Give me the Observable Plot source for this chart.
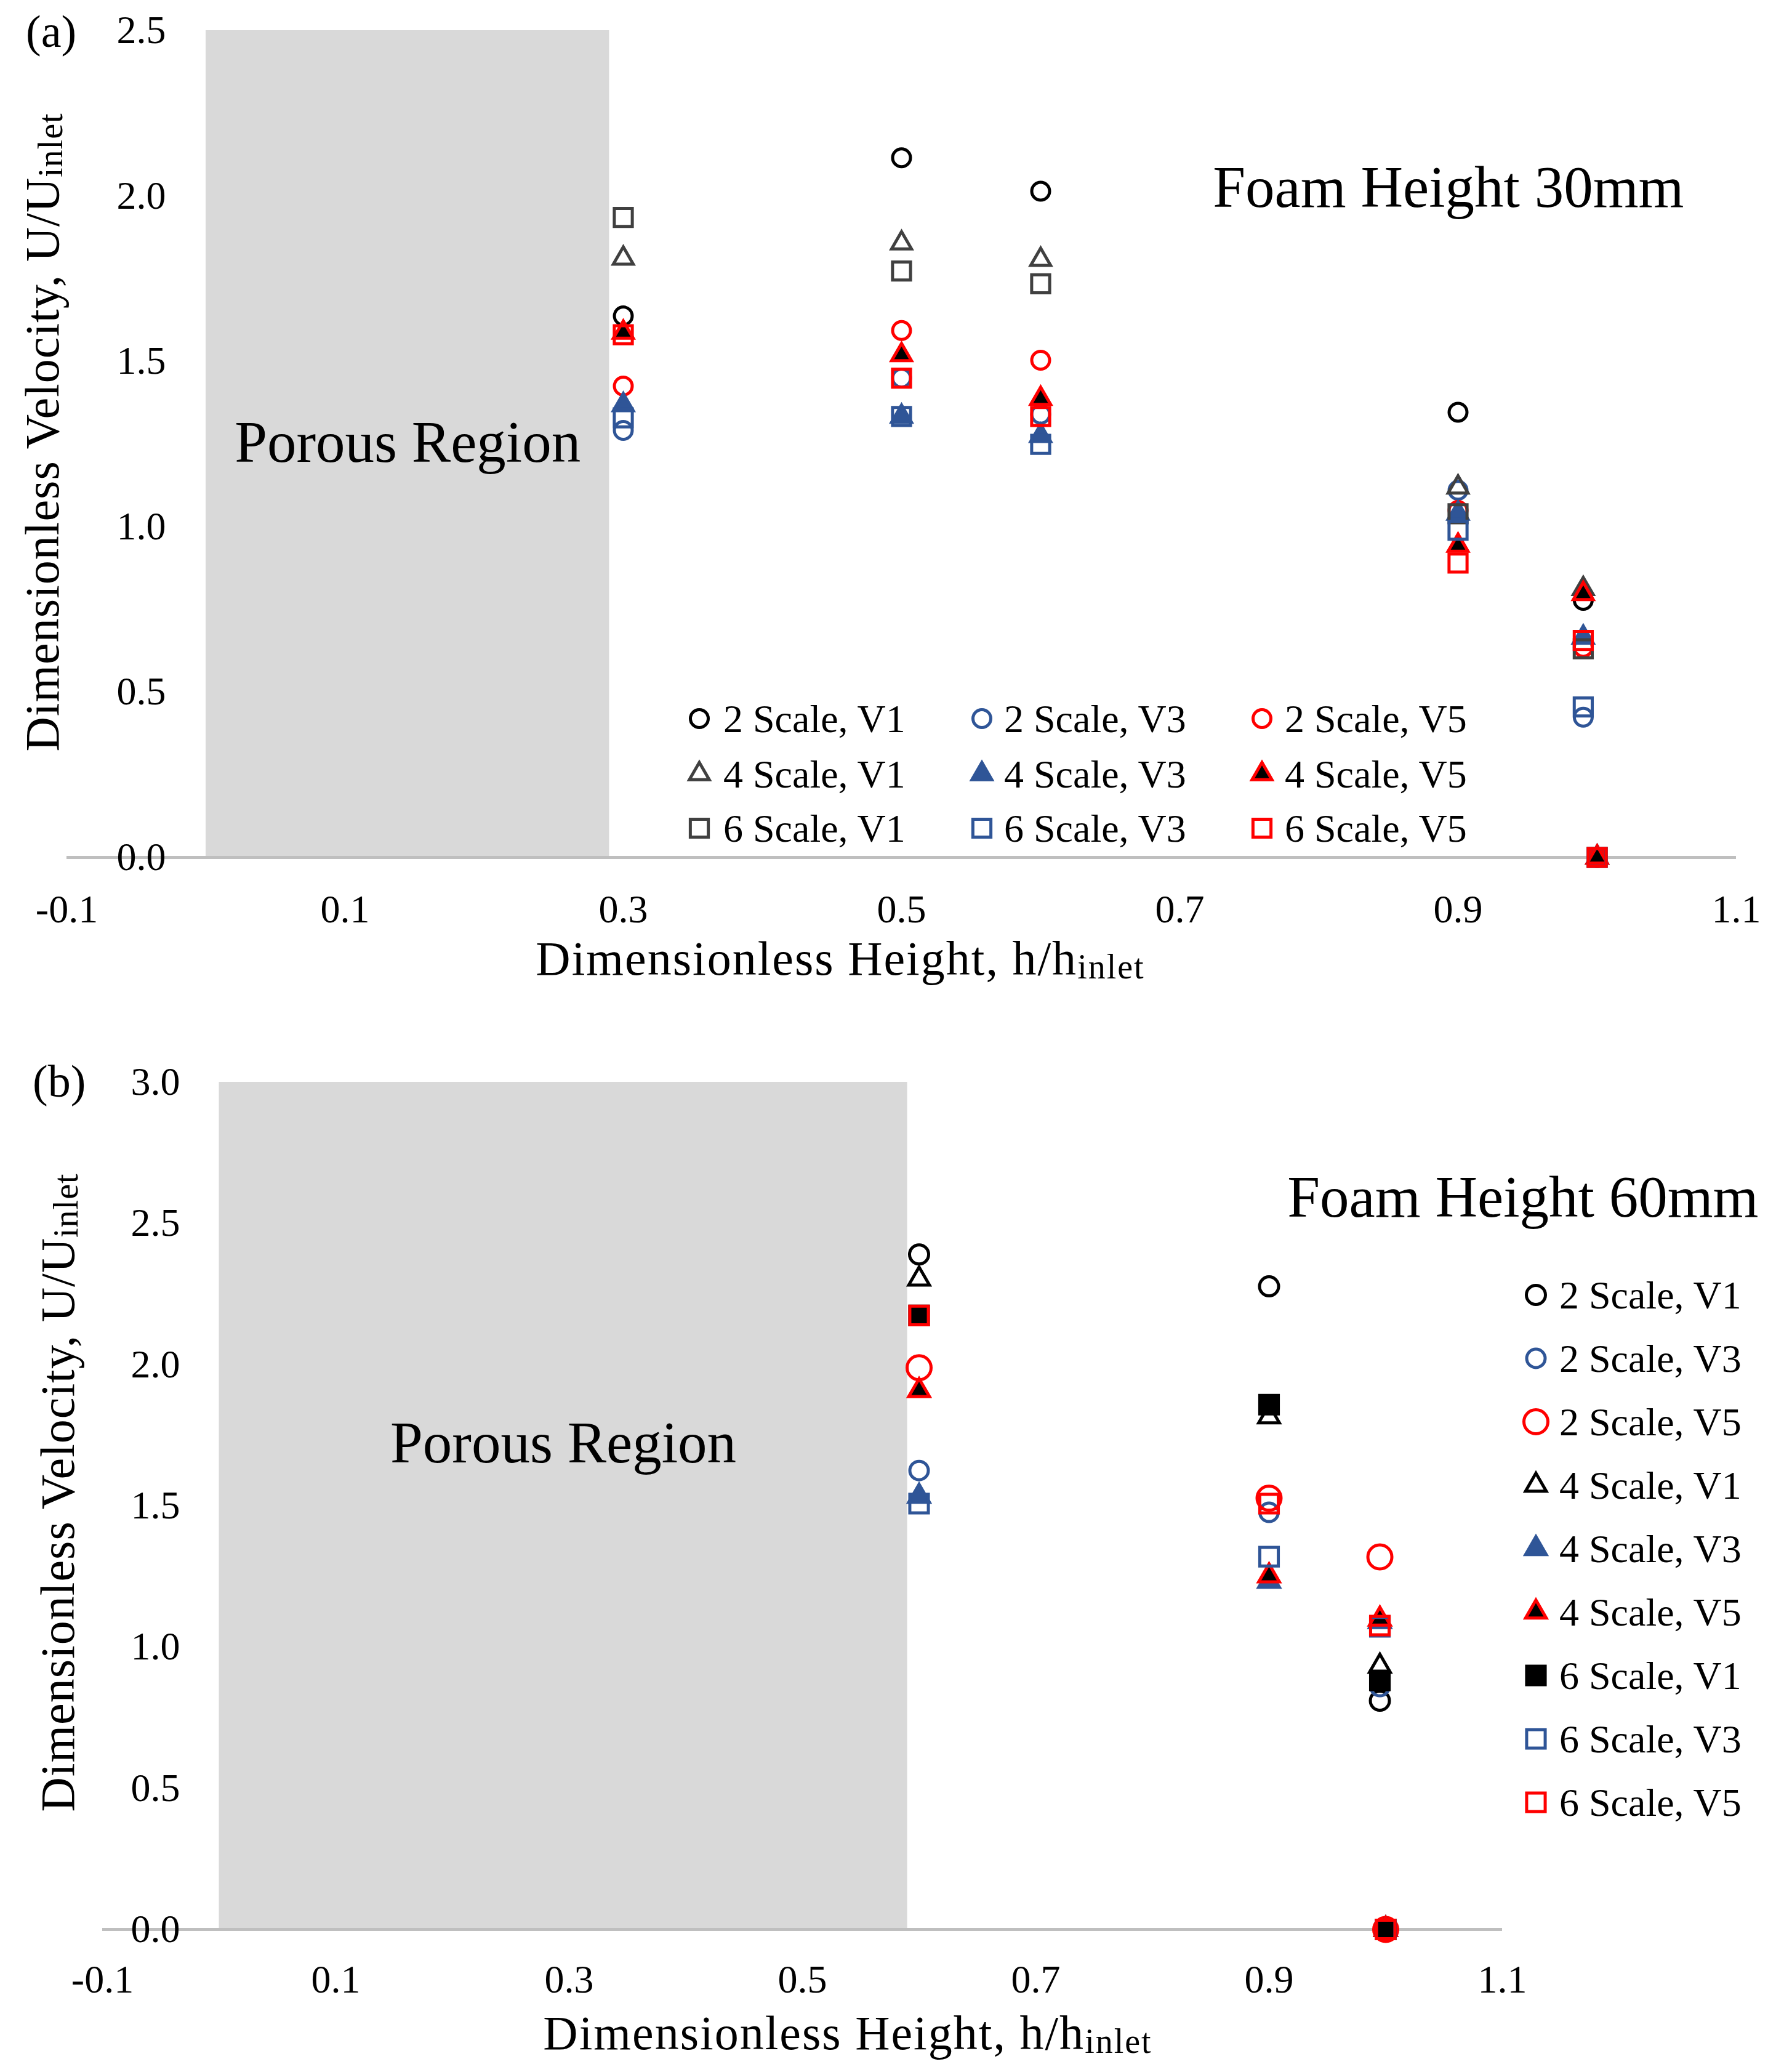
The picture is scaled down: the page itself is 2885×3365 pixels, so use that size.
<!DOCTYPE html>
<html>
<head>
<meta charset="utf-8">
<script src="https://cdn.jsdelivr.net/npm/d3@7"></script>
<script src="https://cdn.jsdelivr.net/npm/@observablehq/plot@0.6"></script>
<style>
  body { margin: 0; background: #fff; }
  #page { position: relative; width: 2885px; height: 3365px; background: #fff; }
  #chart-a { position: absolute; left: 0; top: 0; }
  #chart-b { position: absolute; left: 0; top: 1700px; }
</style>
</head>
<body>
<div id="page">
  <div id="chart-a"></div>
  <div id="chart-b"></div>
</div>
<script>
// series names, same order in both panels (also the legend order)
const seriesNames = [
  "2 Scale, V1", "2 Scale, V3", "2 Scale, V5",
  "4 Scale, V1", "4 Scale, V3", "4 Scale, V5",
  "6 Scale, V1", "6 Scale, V3", "6 Scale, V5"
];

// panel (a) - foam height 30mm
const heightsA = [0.3, 0.5, 0.6, 0.9, 0.99, 1.0];
const a2V1 = [1.637, 2.115, 2.014, 1.346, 0.777, 0];
const a2V3 = [1.291, 1.449, 1.340, 1.110, 0.424, 0];
const a2V5 = [1.425, 1.593, 1.503, 1.049, 0.635, 0];
const a4V1 = [1.811, 1.857, 1.807, 1.119, 0.812, 0];
const a4V3 = [1.368, 1.333, 1.275, 1.040, 0.665, 0];
const a4V5 = [1.587, 1.519, 1.387, 0.943, 0.797, 0];
const a6V1 = [1.935, 1.773, 1.734, 1.039, 0.631, 0];
const a6V3 = [1.329, 1.333, 1.249, 0.989, 0.455, 0];
const a6V5 = [1.580, 1.449, 1.333, 0.890, 0.656, 0];
const porousA = [0, 0.29];
const yTicksA = [0, 0.5, 1.0, 1.5, 2.0, 2.5];

// panel (b) - foam height 60mm
const heightsB = [0.6, 0.9, 0.995, 1.0];
const b2V1 = [2.390, 2.277, 0.810, 0];
const b2V3 = [1.625, 1.477, 0.860, 0];
const b2V5 = [1.989, 1.527, 1.319, 0];
const b4V1 = [2.303, 1.815, 0.932, 0];
const b4V3 = [1.534, 1.233, 1.090, 0];
const b4V5 = [1.908, 1.252, 1.099, 0];
const b6V1 = [2.174, 1.858, 0.882, 0];
const b6V3 = [1.508, 1.320, 1.072, 0];
const b6V5 = [2.174, 1.508, 1.076, 0];
const porousB = [0, 0.59];
const yTicksB = [0, 0.5, 1.0, 1.5, 2.0, 2.5, 3.0];

const xTicks = [-0.1, 0.1, 0.3, 0.5, 0.7, 0.9, 1.1];

const blue = "#2f5597";
const red = "#ff0000";

// marker looks per series
const markersA = [
  {symbol: "circle", stroke: "#000", fill: "none", r: 14.5},
  {symbol: "circle", stroke: blue, fill: "none", r: 14.5},
  {symbol: "circle", stroke: red, fill: "none", r: 14.5},
  {symbol: "triangle", stroke: "#404040", fill: "none", r: 12},
  {symbol: "triangle", stroke: blue, fill: blue, r: 12},
  {symbol: "triangle", stroke: red, fill: "#000", r: 12},
  {symbol: "square", stroke: "#404040", fill: "none", r: 16.5},
  {symbol: "square", stroke: blue, fill: "none", r: 16.5},
  {symbol: "square", stroke: red, fill: "none", r: 16.5}
];
const markersB = [
  {symbol: "circle", stroke: "#000", fill: "none", r: 15.5},
  {symbol: "circle", stroke: blue, fill: "none", r: 15},
  {symbol: "circle", stroke: red, fill: "none", r: 19.5},
  {symbol: "triangle", stroke: "#000", fill: "none", r: 12.5},
  {symbol: "triangle", stroke: blue, fill: blue, r: 12.5},
  {symbol: "triangle", stroke: red, fill: "#000", r: 12.5},
  {symbol: "square", stroke: "#000", fill: "#000", r: 17},
  {symbol: "square", stroke: blue, fill: "none", r: 17},
  {symbol: "square", stroke: red, fill: "none", r: 17}
];

function toRows(heights, valueLists) {
  const rows = [];
  valueLists.forEach((vals, i) => {
    vals.forEach((v, j) => rows.push({series: seriesNames[i], h: heights[j], u: v}));
  });
  return rows;
}

const rowsA = toRows(heightsA, [a2V1, a2V3, a2V5, a4V1, a4V3, a4V5, a6V1, a6V3, a6V5]);
const rowsB = toRows(heightsB, [b2V1, b2V3, b2V5, b4V1, b4V3, b4V5, b6V1, b6V3, b6V5]);

function dotMarks(rows, markers) {
  return seriesNames.map((name, i) => {
    const m = markers[i];
    return Plot.dot(rows.filter(d => d.series === name), {
      x: "h", y: "u",
      symbol: m.symbol, r: m.r,
      stroke: m.stroke, fill: m.fill, strokeWidth: 5
    });
  });
}

const d3Symbols = {circle: d3.symbolCircle, triangle: d3.symbolTriangle, square: d3.symbolSquare};

function drawLegend(svg, markers, spots) {
  const g = svg.append("g").attr("text-anchor", "start");
  spots.forEach((s, i) => {
    const m = markers[i];
    g.append("path")
      .attr("transform", `translate(${s.mx},${s.y})`)
      .attr("d", d3.symbol(d3Symbols[m.symbol], Math.PI * m.r * m.r)())
      .attr("fill", m.fill).attr("stroke", m.stroke).attr("stroke-width", 5);
    g.append("text")
      .attr("x", s.tx).attr("y", s.y + 22)
      .attr("text-anchor", "start")
      .attr("font-size", 64).attr("fill", "#000")
      .text(seriesNames[i]);
  });
}

function axisTitles(svg, o) {
  const xt = svg.append("text")
    .attr("x", o.xCenter).attr("y", o.xBase)
    .attr("text-anchor", "middle").attr("font-size", 78)
    .attr("letter-spacing", 2).attr("fill", "#000");
  xt.append("tspan").text("Dimensionless Height, h/h");
  xt.append("tspan").attr("font-size", 56).attr("dy", 6).text("inlet");

  const yt = svg.append("text")
    .attr("transform", `translate(${o.yBase},${o.yCenter}) rotate(-90)`)
    .attr("text-anchor", "middle").attr("font-size", 78)
    .attr("letter-spacing", 1).attr("fill", "#000");
  yt.append("tspan").text("Dimensionless Velocity, U/U");
  yt.append("tspan").attr("font-size", 56).attr("dy", 6).text("inlet");

  svg.append("text")
    .attr("x", o.tagX).attr("y", o.tagY)
    .attr("text-anchor", "start")
    .attr("font-size", 74).attr("fill", "#000")
    .text(o.tag);
}

const baseStyle = {fontFamily: "'Liberation Serif', serif", fontSize: "64px", color: "#000", background: "#fff"};

// ---- panel (a)
const plotA = Plot.plot({
  width: 2885, height: 1640,
  marginLeft: 108, marginRight: 65, marginTop: 49, marginBottom: 248,
  x: {domain: [-0.1, 1.1]},
  y: {domain: [0, 2.5]},
  style: baseStyle,
  marks: [
    Plot.rect([porousA], {x1: d => d[0], x2: d => d[1], y1: 0, y2: d3.max(yTicksA), fill: "#d9d9d9"}),
    Plot.ruleY([0], {stroke: "#bfbfbf", strokeWidth: 5}),
    Plot.axisY(yTicksA, {tickSize: 0, tickPadding: 0, dx: 161, tickFormat: d => d.toFixed(1), label: null, fontSize: 64}),
    Plot.axisX(xTicks, {tickSize: 0, tickPadding: 60, tickFormat: d => d.toFixed(1), label: null, fontSize: 64}),
    Plot.text(["Porous Region"], {x: () => (porousA[0] + porousA[1]) / 2, frameAnchor: "top", lineAnchor: "bottom", dy: 700, fontSize: 95, fill: "#000"}),
    Plot.text(["Foam Height 30mm"], {frameAnchor: "top-right", textAnchor: "end", lineAnchor: "bottom", dx: -85, dy: 286, fontSize: 95, fill: "#000"}),
    ...dotMarks(rowsA, markersA)
  ]
});
document.getElementById("chart-a").appendChild(plotA);
const svgA = d3.select(plotA);
axisTitles(svgA, {xCenter: 1365, xBase: 1583, yCenter: 702, yBase: 95, tag: "(a)", tagX: 42, tagY: 76});
const legendRowsA = [1167, 1257, 1345];
const legendColsA = [{mx: 1136, tx: 1175}, {mx: 1595, tx: 1631}, {mx: 2050, tx: 2087}];
drawLegend(svgA, markersA, seriesNames.map((_, i) => ({
  y: legendRowsA[Math.floor(i / 3)], mx: legendColsA[i % 3].mx, tx: legendColsA[i % 3].tx
})));

// ---- panel (b)
const plotB = Plot.plot({
  width: 2885, height: 1665,
  marginLeft: 166, marginRight: 445, marginTop: 57, marginBottom: 232,
  x: {domain: [-0.1, 1.1]},
  y: {domain: [0, 3.0]},
  style: baseStyle,
  marks: [
    Plot.rect([porousB], {x1: d => d[0], x2: d => d[1], y1: 0, y2: d3.max(yTicksB), fill: "#d9d9d9"}),
    Plot.ruleY([0], {stroke: "#bfbfbf", strokeWidth: 5}),
    Plot.axisY(yTicksB, {tickSize: 0, tickPadding: 0, dx: 126, tickFormat: d => d.toFixed(1), label: null, fontSize: 64}),
    Plot.axisX(xTicks, {tickSize: 0, tickPadding: 57, tickFormat: d => d.toFixed(1), label: null, fontSize: 64}),
    Plot.text(["Porous Region"], {x: () => (porousB[0] + porousB[1]) / 2, frameAnchor: "top", lineAnchor: "bottom", dy: 617, fontSize: 95, fill: "#000"}),
    Plot.text(["Foam Height 60mm"], {frameAnchor: "top-right", textAnchor: "end", lineAnchor: "bottom", dx: 416, dy: 218, fontSize: 95, fill: "#000"}),
    ...dotMarks(rowsB, markersB)
  ]
});
document.getElementById("chart-b").appendChild(plotB);
const svgB = d3.select(plotB);
axisTitles(svgB, {xCenter: 1377, xBase: 1628, yCenter: 724, yBase: 120, tag: "(b)", tagX: 53, tagY: 81});
drawLegend(svgB, markersB, seriesNames.map((_, i) => ({y: 403 + i * 103, mx: 2495, tx: 2533})));
</script>
</body>
</html>
